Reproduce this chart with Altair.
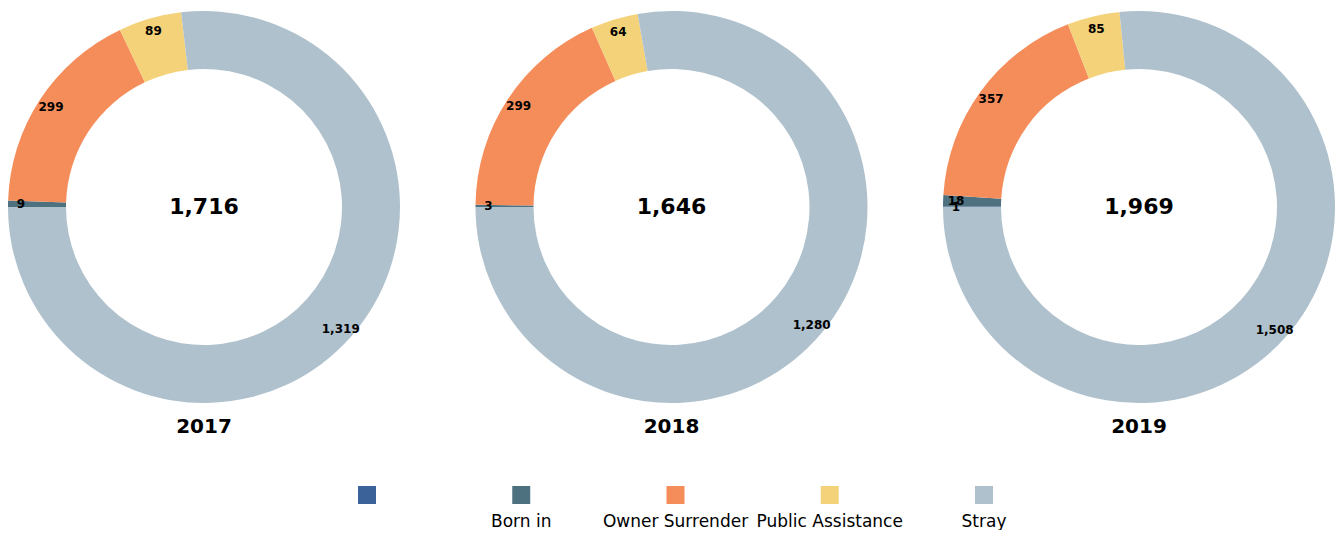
import math
import altair as alt
import pandas as pd

years = ["2017", "2018", "2019"]
categories = [" ", "Born in", "Owner Surrender", "Public Assistance", "Stray"]
colors = ["#3b6399", "#4e7180", "#f58d5b", "#f4d27a", "#afc1cd"]
values_2017 = [0, 9, 299, 89, 1319]
values_2018 = [0, 3, 299, 64, 1280]
values_2019 = [1, 18, 357, 85, 1508]
all_values = {"2017": values_2017, "2018": values_2018, "2019": values_2019}

rows = []
for y in years:
    for i, (c, v) in enumerate(zip(categories, all_values[y])):
        if v > 0:
            rows.append({"year": y, "category": c, "value": v, "order": i})
df = pd.DataFrame(rows)

FONT = "DejaVu Sans"
W = 392
H = 398
theta_scale = alt.Scale(range=[1.5 * math.pi, 3.5 * math.pi])
color_scale = alt.Scale(domain=categories, range=colors)

panels = []
for y in years:
    base = alt.Chart(df).transform_filter(alt.datum.year == y)
    arc = base.mark_arc(outerRadius=196, innerRadius=138).encode(
        theta=alt.Theta("value:Q", stack=True, scale=theta_scale),
        color=alt.Color("category:N", scale=color_scale, legend=None),
        order=alt.Order("order:Q"),
    )
    labels = base.mark_text(radius=183, font=FONT, fontSize=12, fontWeight="bold", color="black").encode(
        theta=alt.Theta("value:Q", stack=True, scale=theta_scale),
        text=alt.Text("value:Q", format=","),
        order=alt.Order("order:Q"),
    )
    total = base.mark_text(font=FONT, fontSize=22, fontWeight="bold", color="black").encode(
        text=alt.Text("sum(value):Q", format=","),
        x=alt.value(W / 2),
        y=alt.value(H / 2),
    )
    panel = alt.layer(arc, labels, total).properties(
        width=W,
        height=H,
        title=alt.TitleParams(y, orient="bottom", fontSize=20, fontWeight="bold", font=FONT, color="black", offset=11),
    )
    panels.append(panel)

row = alt.hconcat(*panels, spacing=75.5).resolve_scale(theta="independent")

leg_df = pd.DataFrame({"category": categories})
leg_base = alt.Chart(leg_df).encode(
    x=alt.X("category:N", scale=alt.Scale(type="point", padding=0, range=[359, 976], domain=categories), axis=None, sort=categories)
)
leg_sq = leg_base.mark_square(size=324, opacity=1).encode(
    color=alt.Color("category:N", scale=color_scale, legend=None),
    y=alt.value(38),
)
leg_txt = leg_base.mark_text(font=FONT, fontSize=17, color="black").encode(
    text="category:N",
    y=alt.value(65),
)
legend = alt.layer(leg_sq, leg_txt).properties(width=1327, height=70)

chart = alt.vconcat(row, legend, spacing=20).properties(padding=0).configure_view(stroke=None)

chart.save("out.html", embed_options={"renderer": "svg", "actions": False})
